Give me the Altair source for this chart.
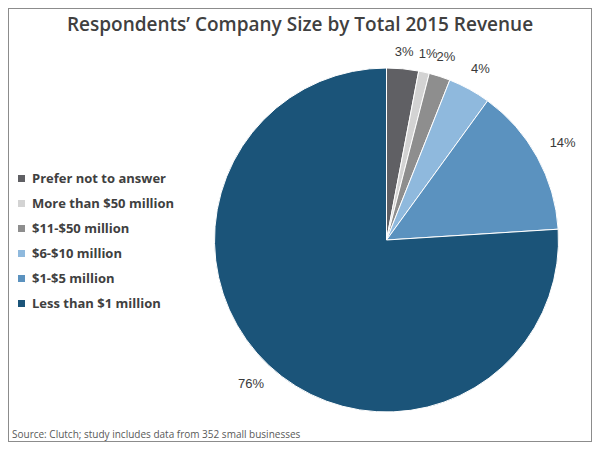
import altair as alt
import pandas as pd

title_text = "Respondents’ Company Size by Total 2015 Revenue"
source_text = "Source: Clutch; study includes data from 352 small businesses"

categories = [
    "Prefer not to answer",
    "More than $50 million",
    "$11-$50 million",
    "$6-$10 million",
    "$1-$5 million",
    "Less than $1 million",
]
values = [3, 1, 2, 4, 14, 76]
colors = ["#606064", "#d3d3d3", "#8e8e8e", "#8fb9dd", "#5b92bf", "#1b5479"]
labels = [f"{v}%" for v in values]

df = pd.DataFrame({
    "category": categories,
    "value": values,
    "label": labels,
    "order": list(range(len(categories))),
})

W, H = 584, 434
cx, cy, r = 378.5, 232, 172

pie = alt.Chart(df).mark_arc(outerRadius=r, stroke="white", strokeWidth=1).encode(
    theta=alt.Theta("value:Q", stack=True),
    order=alt.Order("order:Q"),
    x=alt.value(cx),
    y=alt.value(cy),
    color=alt.Color(
        "category:N",
        scale=alt.Scale(domain=categories, range=colors),
        legend=alt.Legend(
            orient="none",
            legendX=7,
            legendY=164,
            title=None,
            symbolType="square",
            symbolSize=49,
            symbolStrokeWidth=0,
            labelFont="Open Sans",
            labelFontSize=13,
            labelFontWeight="bold",
            labelColor="#404040",
            labelOffset=4,
            rowPadding=11,
            padding=0,
        ),
    ),
)

# labels at the slice mid-angle; distance grows for labels beside the pie
pct = alt.Chart(df).transform_window(
    cum="sum(value)", sort=[alt.SortField("order")]
).transform_joinaggregate(
    total="sum(value)"
).transform_calculate(
    mid="(datum.cum - datum.value / 2) / datum.total * 2 * PI",
    rlab="187 + 16 * abs(sin(datum.mid))",
).mark_text(
    font="Liberation Sans", fontSize=13, color="#3a3a3a"
).encode(
    x=alt.value(cx),
    y=alt.value(cy),
    theta=alt.Theta("mid:Q", scale=None, stack=None),
    radius=alt.Radius("rlab:Q", scale=None),
    text="label:N",
)

title = alt.Chart(pd.DataFrame({"t": [title_text]})).mark_text(
    font="Open Sans", fontSize=19, fontWeight=600, color="#404040",
    align="center", baseline="alphabetic",
).encode(x=alt.value(292), y=alt.value(23), text="t:N")

source = alt.Chart(pd.DataFrame({"t": [source_text]})).mark_text(
    font="Open Sans", fontSize=10, color="#595959",
    align="left", baseline="alphabetic",
).encode(x=alt.value(4), y=alt.value(430), text="t:N")

chart = alt.layer(pie, pct, title, source).properties(
    width=W,
    height=H,
    autosize=alt.AutoSizeParams(type="none"),
    padding=0,
).configure_view(stroke="#8c8c8c", strokeWidth=2)

chart.save("out.html", embed_options={"renderer": "svg", "actions": False})
